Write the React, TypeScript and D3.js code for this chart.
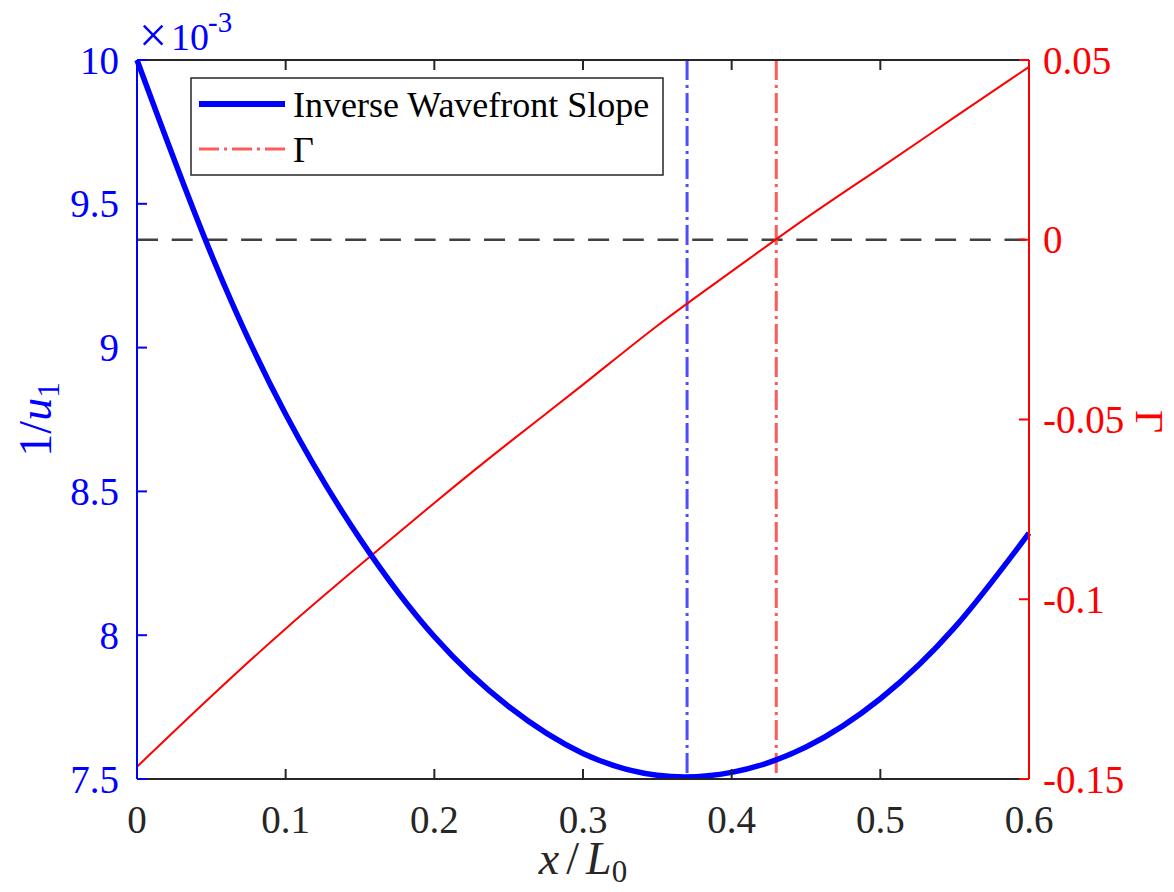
import React from 'react';
import * as d3 from 'd3';

// x / L0 sample positions
const xGrid = [0, 0.05, 0.1, 0.15, 0.2, 0.25, 0.3, 0.35, 0.4, 0.45, 0.5, 0.55, 0.6];
// inverse wavefront slope 1/u1, in units of 1e-3
const inverseSlope = [10.0, 9.324, 8.768, 8.335, 7.995, 7.752, 7.589, 7.513, 7.523, 7.611, 7.779, 8.027, 8.355];
// Gamma (right axis)
const gamma = [
  -0.1466, -0.127, -0.1082, -0.0905, -0.0732, -0.0565, -0.0403, -0.0239, -0.0088,
  0.006, 0.02, 0.0341, 0.0481,
];

const xTicks = [0, 0.1, 0.2, 0.3, 0.4, 0.5, 0.6];
const leftTicks = [7.5, 8, 8.5, 9, 9.5, 10];
const rightTicks = [-0.15, -0.1, -0.05, 0, 0.05];
const minSlopeX = 0.37;
const gammaZeroX = 0.43;

const W = 1174;
const H = 892;
const plot = { left: 137, right: 1029, top: 60, bottom: 779 };
const font = "'Liberation Serif', 'Times New Roman', serif";
const dark = '#262626';

const App = () => {
  const x = d3.scaleLinear().domain([0, 0.6]).range([plot.left, plot.right]);
  const yL = d3.scaleLinear().domain([7.5, 10]).range([plot.bottom, plot.top]);
  const yR = d3.scaleLinear().domain([-0.15, 0.05]).range([plot.bottom, plot.top]);

  const slopeLine = d3
    .line<number>()
    .x((_, i) => x(xGrid[i]))
    .y((d) => yL(d))
    .curve(d3.curveNatural);

  const gammaLine = d3
    .line<number>()
    .x((_, i) => x(xGrid[i]))
    .y((d) => yR(d))
    .curve(d3.curveNatural);

  const dashDot = '20,5,3,5';

  return (
    <div style={{ position: 'absolute', left: 0, top: 0 }}>
      <svg width={W} height={H} style={{ display: 'block', background: '#fff', fontFamily: font }}>
        {/* reference lines */}
        <line x1={plot.left} x2={plot.right} y1={yR(0)} y2={yR(0)} stroke="#404040" strokeWidth={2.5} strokeDasharray="21,13.7" />
        <line x1={x(minSlopeX)} x2={x(minSlopeX)} y1={plot.top} y2={plot.bottom} stroke="#4d4dff" strokeWidth={3} strokeDasharray={dashDot} />
        <line x1={x(gammaZeroX)} x2={x(gammaZeroX)} y1={plot.top} y2={plot.bottom} stroke="#ff5a5a" strokeWidth={3} strokeDasharray={dashDot} />

        {/* curves */}
        <path d={gammaLine(gamma) ?? ''} fill="none" stroke="#ff0000" strokeWidth={2} />
        <path d={slopeLine(inverseSlope) ?? ''} fill="none" stroke="#0000ff" strokeWidth={5.5} />

        {/* box: top and bottom */}
        <line x1={plot.left} x2={plot.right} y1={plot.bottom} y2={plot.bottom} stroke={dark} strokeWidth={2} />
        <line x1={plot.left} x2={plot.right} y1={plot.top} y2={plot.top} stroke={dark} strokeWidth={2} />
        {xTicks.map((t) => (
          <g key={'xt' + t}>
            <line x1={x(t)} x2={x(t)} y1={plot.bottom} y2={plot.bottom - 10} stroke={dark} strokeWidth={2} />
            <line x1={x(t)} x2={x(t)} y1={plot.top} y2={plot.top + 10} stroke={dark} strokeWidth={2} />
            <text x={x(t)} y={833} textAnchor="middle" fontSize={39} fill={dark}>
              {String(t)}
            </text>
          </g>
        ))}

        {/* left axis */}
        <line x1={plot.left} x2={plot.left} y1={plot.top} y2={plot.bottom} stroke="#0000ff" strokeWidth={2} />
        {leftTicks.map((t) => (
          <g key={'yl' + t}>
            <line x1={plot.left} x2={plot.left + 10} y1={yL(t)} y2={yL(t)} stroke="#0000ff" strokeWidth={2} />
            <text x={119} y={yL(t) + 13.5} textAnchor="end" fontSize={39} fill="#0000ff">
              {String(t)}
            </text>
          </g>
        ))}
        {/* exponent marker */}
        <text x={139} y={52} fontSize={50} fill="#0000ff">×</text>
        <text x={171} y={50} fontSize={38} fill="#0000ff">10</text>
        <text x={208} y={32} fontSize={29} fill="#0000ff">-3</text>

        {/* right axis */}
        <line x1={plot.right} x2={plot.right} y1={plot.top} y2={plot.bottom} stroke="#ff0000" strokeWidth={2} />
        {rightTicks.map((t) => (
          <g key={'yr' + t}>
            <line x1={plot.right - 10} x2={plot.right} y1={yR(t)} y2={yR(t)} stroke="#ff0000" strokeWidth={2} />
            <text x={1043} y={yR(t) + 13.5} fontSize={39} fill="#ff0000">
              {String(t)}
            </text>
          </g>
        ))}

        {/* axis labels */}
        <text x={(plot.left + plot.right) / 2} y={874} textAnchor="middle" fontSize={46} fill={dark}>
          <tspan fontStyle="italic">x</tspan>
          <tspan dx={7}>/</tspan>
          <tspan dx={7} fontStyle="italic">L</tspan>
          <tspan fontSize={31} dy={8}>0</tspan>
        </text>
        <text transform={`translate(51, ${(plot.top + plot.bottom) / 2}) rotate(-90)`} textAnchor="middle" fontSize={46} fill="#0000ff">
          <tspan>1/</tspan>
          <tspan fontStyle="italic">u</tspan>
          <tspan fontSize={31} dy={8}>1</tspan>
        </text>
        <text transform={`translate(1136, ${(plot.top + plot.bottom) / 2 + 2}) rotate(90)`} textAnchor="middle" fontSize={40} fill="#ff0000">
          Γ
        </text>

        {/* legend */}
        <rect x={191} y={78} width={472} height={97} fill="#fff" stroke={dark} strokeWidth={1.5} />
        <line x1={199} x2={285} y1={104} y2={104} stroke="#0000ff" strokeWidth={6} />
        <text x={293} y={117} fontSize={36} fill="#000">
          Inverse Wavefront Slope
        </text>
        <line x1={199} x2={285} y1={149} y2={149} stroke="#ff5a5a" strokeWidth={3} strokeDasharray={dashDot} />
        <text x={293} y={162} fontSize={36} fill="#000">
          Γ
        </text>
      </svg>
    </div>
  );
};

export default App;
